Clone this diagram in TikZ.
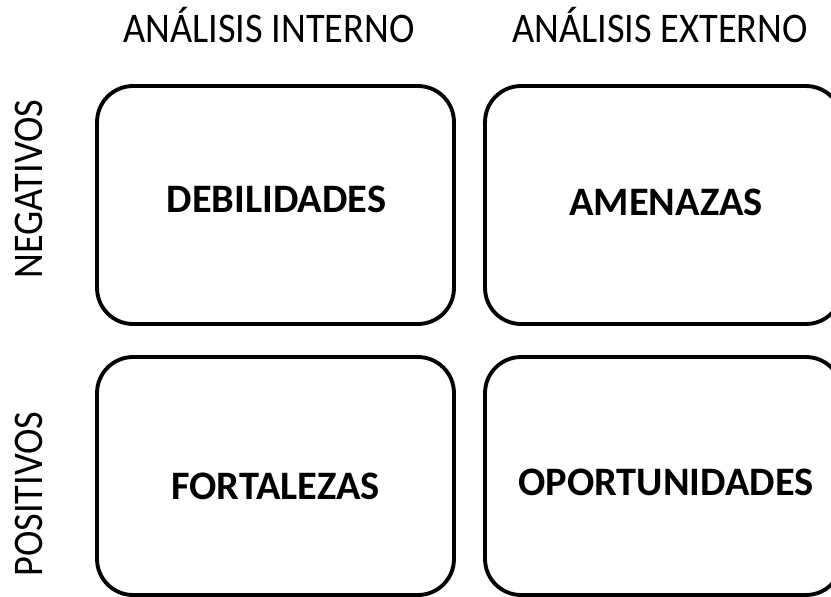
\documentclass[tikz,border=0pt]{standalone}
\usepackage{fontspec}
\setmainfont{Carlito}
\usetikzlibrary{positioning}

\begin{document}
\begin{tikzpicture}
    [x=0.02cm,y=-0.02cm,every node/.style={inner sep=0pt, anchor=base, font=\fontsize{24}{28}\selectfont},
     quadrant/.style={draw, line width=2.2pt, rounded corners=0.72cm, minimum width=7.14cm, minimum height=4.76cm, anchor=center},
     axis/.style={xscale=0.91},
     swot/.style={font=\fontsize{23}{27}\selectfont\bfseries}]
  \useasboundingbox (0,0) rectangle (831,596);

  % headers
  \node[axis] (hint) at (269,42) {ANÁLISIS INTERNO};
  \node[axis] (hext) at (660,42) {ANÁLISIS EXTERNO};

  \node[rotate=90,axis] (neg) at (42,189) {NEGATIVOS};
  \node[rotate=90,axis] (pos) at (42,494) {POSITIVOS};

  % the four boxes
  \node[quadrant] (q1) at (275.5,205) {};
  \node[quadrant] (q2) at (663.5,205) {};
  \node[quadrant] (q3) at (275.5,476) {};
  \node[quadrant] (q4) at (663.5,476) {};

  \node[swot] (deb) at (276.5,212) {DEBILIDADES};
  \node[swot] (ame) at (666,215) {AMENAZAS};
  \node[swot] (for) at (275.5,499) {FORTALEZAS};
  \node[swot] (opo) at (666,495) {OPORTUNIDADES};
\end{tikzpicture}
\end{document}
